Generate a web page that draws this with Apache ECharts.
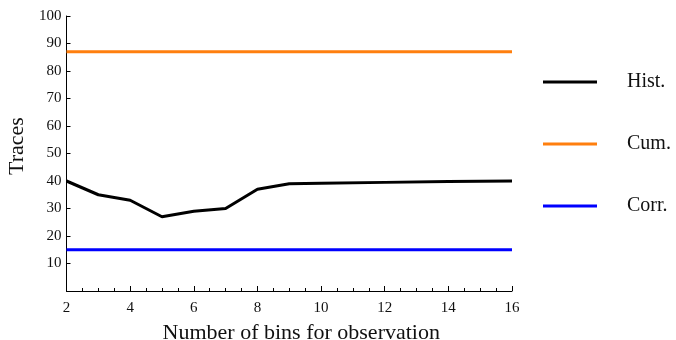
<!DOCTYPE html>
<html>
<head>
<meta charset="utf-8">
<script src="https://cdn.jsdelivr.net/npm/echarts@6/dist/echarts.min.js"></script>
<style>
  html, body { margin: 0; padding: 0; background: #fff; }
  #chart { width: 676px; height: 340px; }
</style>
</head>
<body>
<div id="chart"></div>
<script>
// Number of bins and the trace counts for each method
const bins = [2, 3, 4, 5, 6, 7, 8, 9, 10, 12, 14, 16];
const histTraces = [40, 35, 33, 27, 29, 30, 37, 39, 39.2, 39.5, 39.8, 40];
const cumTraces = [87, 87, 87, 87, 87, 87, 87, 87, 87, 87, 87, 87];
const corrTraces = [15, 15, 15, 15, 15, 15, 15, 15, 15, 15, 15, 15];
const seriesNames = ['Hist.', 'Cum.', 'Corr.'];
const seriesColors = ['#000000', '#ff7f0e', '#0000ff'];

const font = 'Liberation Serif';
const pairs = (ys) => bins.map((b, i) => [b, ys[i]]);

const chart = echarts.init(document.getElementById('chart'));
chart.setOption({
  animation: false,
  grid: { left: 66.5, right: 164, top: 16, bottom: 49, outerBoundsMode: 'none', containLabel: false },
  legend: {
    orient: 'vertical',
    left: 538,
    top: 67,
    icon: 'rect',
    itemWidth: 54,
    itemHeight: 3,
    itemGap: 42,
    data: seriesNames,
    textStyle: { fontFamily: font, fontSize: 20, lineHeight: 20, color: '#111', padding: [0, 0, 0, 25] }
  },
  xAxis: {
    type: 'value',
    min: 2,
    max: 16,
    interval: 2,
    name: 'Number of bins for observation',
    nameLocation: 'middle',
    nameGap: 31,
    nameTextStyle: { fontFamily: font, fontSize: 22, color: '#111', padding: [0, 0, 0, 24] },
    axisLine: { lineStyle: { color: '#000', width: 1 } },
    axisTick: { inside: true, length: 5, lineStyle: { color: '#000' } },
    minorTick: { show: true, splitNumber: 4, length: 3, lineStyle: { color: '#000' } },
    axisLabel: { fontFamily: font, fontSize: 15, color: '#111', margin: 10 },
    splitLine: { show: false }
  },
  yAxis: {
    type: 'value',
    min: 0,
    max: 100,
    interval: 10,
    name: 'Traces',
    nameLocation: 'middle',
    nameGap: 37,
    nameTextStyle: { fontFamily: font, fontSize: 22, color: '#111', padding: [0, 0, 0, 15] },
    axisLine: { show: true, lineStyle: { color: '#000', width: 1 } },
    axisTick: { show: true, inside: true, length: 4, lineStyle: { color: '#000' } },
    axisLabel: {
      fontFamily: font, fontSize: 15, color: '#111', margin: 5,
      formatter: (v) => (v === 0 ? '' : String(v))
    },
    splitLine: { show: false }
  },
  series: [
    { name: seriesNames[0], data: pairs(histTraces) },
    { name: seriesNames[1], data: pairs(cumTraces) },
    { name: seriesNames[2], data: pairs(corrTraces) }
  ].map((s, i) => Object.assign(s, {
    type: 'line',
    symbol: 'none',
    showSymbol: false,
    color: seriesColors[i],
    itemStyle: { color: seriesColors[i] },
    lineStyle: { color: seriesColors[i], width: 3 },
    z: 3 - i
  }))
});
</script>
</body>
</html>
